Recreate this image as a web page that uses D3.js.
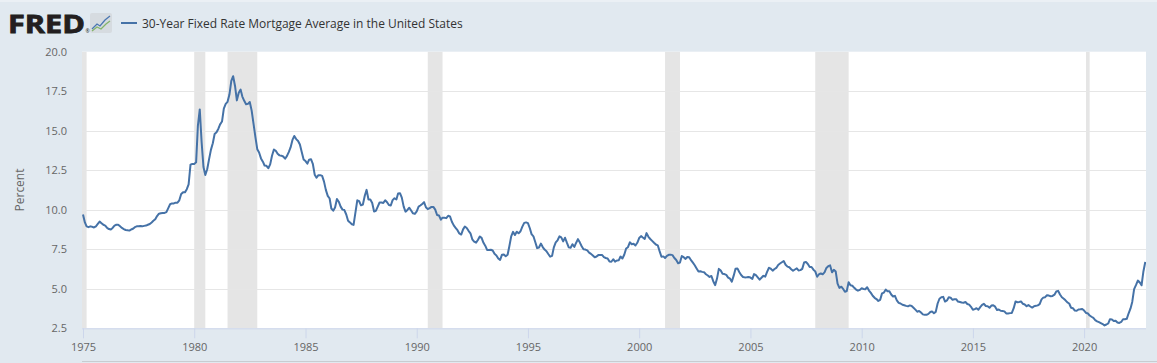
<!DOCTYPE html>
<html>
<head>
<meta charset="utf-8">
<script src="https://cdn.jsdelivr.net/npm/d3@7"></script>
<style>
  html, body { margin: 0; padding: 0; background: #e1e9f0; }
  svg { display: block; }
  text { font-family: "Open Sans", "Noto Sans", sans-serif; }
</style>
</head>
<body>
<svg id="chart" width="1157" height="363"></svg>
<script>
// ---------------- DATA ----------------
const seriesTitle = "30-Year Fixed Rate Mortgage Average in the United States";
const yAxisTitle = "Percent";
const startMonth = "1975-01";
const endDate = "2022-10-13";
// monthly 30-year fixed mortgage rate, percent (Jan 1975 .. Oct 2022)
const rates = [
  9.70, 9.20, 8.95, 8.90, 8.95, 8.92, 8.88, 8.95, 9.10, 9.25, 9.15, 9.05, // 1975
  9.00, 8.85, 8.78, 8.75, 8.85, 9.00, 9.05, 9.05, 8.95, 8.85, 8.78, 8.72, // 1976
  8.70, 8.68, 8.75, 8.80, 8.90, 8.95, 8.95, 8.97, 8.95, 8.98, 9.00, 9.05, // 1977
  9.10, 9.20, 9.30, 9.40, 9.60, 9.75, 9.78, 9.80, 9.80, 9.85, 10.10, 10.35, // 1978
  10.40, 10.40, 10.45, 10.45, 10.60, 11.00, 11.10, 11.10, 11.30, 11.60, 12.85, 12.90, // 1979
  12.90, 13.00, 15.30, 16.35, 14.30, 12.70, 12.20, 12.56, 13.20, 13.79, 14.21, 14.79, // 1980
  14.90, 15.13, 15.40, 15.58, 16.40, 16.70, 16.83, 17.29, 18.16, 18.45, 17.83, 16.92, // 1981
  17.40, 17.60, 17.16, 16.89, 16.68, 16.70, 16.82, 16.27, 15.43, 14.61, 13.83, 13.62, // 1982
  13.25, 13.04, 12.80, 12.78, 12.63, 12.87, 13.42, 13.81, 13.73, 13.54, 13.44, 13.42, // 1983
  13.37, 13.23, 13.39, 13.65, 13.94, 14.42, 14.67, 14.47, 14.35, 14.13, 13.64, 13.18, // 1984
  13.08, 12.92, 13.17, 13.20, 12.91, 12.22, 12.03, 12.19, 12.19, 12.14, 11.78, 11.26, // 1985
  10.88, 10.71, 10.08, 9.94, 10.14, 10.68, 10.51, 10.20, 10.01, 9.98, 9.70, 9.31, // 1986
  9.20, 9.08, 9.04, 9.83, 10.60, 10.54, 10.28, 10.33, 10.89, 11.26, 10.65, 10.65, // 1987
  10.43, 9.89, 9.93, 10.20, 10.46, 10.46, 10.43, 10.60, 10.48, 10.30, 10.27, 10.61, // 1988
  10.73, 10.65, 11.03, 11.05, 10.77, 10.20, 9.88, 9.99, 10.13, 9.95, 9.77, 9.74, // 1989
  9.90, 10.20, 10.27, 10.37, 10.48, 10.16, 10.04, 10.10, 10.18, 10.18, 10.01, 9.67, // 1990
  9.64, 9.37, 9.50, 9.49, 9.47, 9.62, 9.58, 9.24, 9.01, 8.86, 8.71, 8.50, // 1991
  8.43, 8.76, 8.94, 8.85, 8.67, 8.51, 8.13, 7.98, 7.92, 8.09, 8.31, 8.22, // 1992
  7.91, 7.71, 7.46, 7.46, 7.47, 7.42, 7.21, 7.11, 6.92, 6.83, 7.16, 7.17, // 1993
  7.06, 7.15, 7.68, 8.32, 8.60, 8.40, 8.61, 8.51, 8.64, 8.93, 9.17, 9.20, // 1994
  9.15, 8.83, 8.46, 8.32, 7.96, 7.57, 7.61, 7.86, 7.64, 7.48, 7.38, 7.20, // 1995
  7.03, 7.08, 7.62, 7.93, 8.07, 8.32, 8.25, 8.00, 8.23, 7.92, 7.62, 7.60, // 1996
  7.82, 7.65, 7.90, 8.14, 7.94, 7.69, 7.50, 7.48, 7.43, 7.29, 7.21, 7.10, // 1997
  6.99, 7.04, 7.13, 7.14, 7.14, 7.00, 6.95, 6.92, 6.72, 6.71, 6.87, 6.72, // 1998
  6.79, 6.81, 7.04, 6.92, 7.15, 7.55, 7.63, 7.94, 7.82, 7.85, 7.74, 7.91, // 1999
  8.21, 8.33, 8.24, 8.15, 8.52, 8.29, 8.15, 8.03, 7.91, 7.80, 7.75, 7.38, // 2000
  7.03, 7.05, 6.95, 7.08, 7.15, 7.16, 7.13, 6.95, 6.82, 6.62, 6.66, 7.07, // 2001
  7.00, 6.89, 7.01, 6.99, 6.81, 6.65, 6.49, 6.29, 6.09, 6.11, 6.07, 6.05, // 2002
  5.92, 5.84, 5.75, 5.81, 5.48, 5.23, 5.63, 6.26, 6.15, 5.95, 5.93, 5.88, // 2003
  5.71, 5.64, 5.45, 5.83, 6.27, 6.29, 6.06, 5.87, 5.75, 5.72, 5.73, 5.75, // 2004
  5.71, 5.63, 5.93, 5.86, 5.72, 5.58, 5.70, 5.82, 5.77, 6.07, 6.33, 6.27, // 2005
  6.15, 6.25, 6.32, 6.51, 6.60, 6.68, 6.76, 6.52, 6.40, 6.36, 6.24, 6.14, // 2006
  6.22, 6.29, 6.16, 6.18, 6.26, 6.66, 6.70, 6.57, 6.38, 6.38, 6.21, 6.10, // 2007
  5.76, 5.92, 5.97, 5.92, 6.04, 6.32, 6.43, 6.48, 6.04, 6.20, 6.09, 5.33, // 2008
  5.06, 5.13, 5.00, 4.81, 4.86, 5.42, 5.22, 5.19, 5.06, 4.95, 4.88, 4.93, // 2009
  5.03, 4.99, 4.97, 5.10, 4.89, 4.74, 4.56, 4.43, 4.35, 4.23, 4.30, 4.71, // 2010
  4.76, 4.95, 4.84, 4.84, 4.64, 4.51, 4.55, 4.27, 4.11, 4.07, 3.99, 3.96, // 2011
  3.92, 3.89, 3.95, 3.91, 3.80, 3.68, 3.55, 3.60, 3.50, 3.38, 3.35, 3.35, // 2012
  3.41, 3.53, 3.57, 3.45, 3.54, 4.07, 4.37, 4.46, 4.49, 4.19, 4.26, 4.46, // 2013
  4.43, 4.30, 4.34, 4.34, 4.19, 4.16, 4.13, 4.12, 4.16, 4.04, 4.00, 3.86, // 2014
  3.67, 3.71, 3.77, 3.67, 3.84, 3.98, 4.05, 3.91, 3.89, 3.80, 3.94, 3.96, // 2015
  3.87, 3.66, 3.69, 3.61, 3.60, 3.57, 3.44, 3.44, 3.46, 3.47, 3.77, 4.20, // 2016
  4.15, 4.17, 4.20, 4.05, 4.01, 3.90, 3.97, 3.88, 3.81, 3.90, 3.92, 3.95, // 2017
  4.03, 4.33, 4.44, 4.47, 4.59, 4.57, 4.53, 4.55, 4.63, 4.83, 4.87, 4.64, // 2018
  4.46, 4.37, 4.27, 4.14, 4.07, 3.80, 3.77, 3.62, 3.61, 3.69, 3.70, 3.72, // 2019
  3.62, 3.47, 3.45, 3.31, 3.23, 3.16, 3.02, 2.94, 2.89, 2.83, 2.77, 2.68, // 2020
  2.74, 2.81, 3.08, 3.06, 2.96, 2.98, 2.87, 2.84, 2.90, 3.07, 3.07, 3.10, // 2021
  3.45, 3.76, 4.17, 4.98, 5.23, 5.52, 5.41, 5.22, 6.11, 6.70              // 2022
];
// NBER recessions (shaded)
const recessionStarts = ["1973-11-01", "1980-01-01", "1981-07-01", "1990-07-01", "2001-03-01", "2007-12-01", "2020-02-01"];
const recessionEnds   = ["1975-03-01", "1980-07-01", "1982-11-01", "1991-03-01", "2001-11-01", "2009-06-01", "2020-04-01"];
const yTicks = [2.5, 5.0, 7.5, 10.0, 12.5, 15.0, 17.5, 20.0];
const xTickYears = [1975, 1980, 1985, 1990, 1995, 2000, 2005, 2010, 2015, 2020];

// ---------------- CHART ----------------
const svg = d3.select("#chart");
const W = 1157, H = 363;
const plot = { left: 82, right: 1146, top: 51.7, bottom: 328.3 };

const parseMonth = d3.timeParse("%Y-%m");
const parseDay = d3.timeParse("%Y-%m-%d");
const t0 = parseMonth(startMonth);
const data = rates.map((v, i) => ({ date: d3.timeMonth.offset(t0, i), value: v }));

const x = d3.scaleTime()
  .domain([parseDay("1975-01-01"), parseDay(endDate)])
  .range([83, plot.right]);
const y = d3.scaleLinear().domain([2.5, 20]).range([plot.bottom, plot.top]);

// background
svg.append("rect").attr("width", W).attr("height", H).attr("fill", "#e1e9f0");
svg.append("rect").attr("width", W).attr("height", 2).attr("fill", "#ebf0f5");
svg.append("line").attr("x1", plot.left).attr("x2", W).attr("y1", 361.5).attr("y2", 361.5)
  .attr("stroke", "#c8ccd0").attr("stroke-width", 1);

// plot background
svg.append("rect")
  .attr("x", plot.left).attr("y", plot.top)
  .attr("width", plot.right - plot.left).attr("height", plot.bottom - plot.top)
  .attr("fill", "#ffffff");

svg.append("defs").append("clipPath").attr("id", "clip")
  .append("rect")
  .attr("x", plot.left).attr("y", plot.top)
  .attr("width", plot.right - plot.left).attr("height", plot.bottom - plot.top);

// recession bands
const rec = recessionStarts.map((s, i) => ({ s: parseDay(s), e: parseDay(recessionEnds[i]) }));
svg.append("g").attr("clip-path", "url(#clip)")
  .selectAll("rect").data(rec).join("rect")
  .attr("x", d => x(d.s))
  .attr("width", d => Math.max(1, x(d.e) - x(d.s)))
  .attr("y", plot.top).attr("height", plot.bottom - plot.top)
  .attr("fill", "#e5e5e5");

// gridlines
svg.append("g")
  .selectAll("line").data(yTicks.filter(v => v > 2.5 && v < 20)).join("line")
  .attr("x1", plot.left).attr("x2", plot.right)
  .attr("y1", d => Math.round(y(d)) + 0.5).attr("y2", d => Math.round(y(d)) + 0.5)
  .attr("stroke", "#e6e6e6").attr("stroke-width", 1);

// y axis labels
const yAxis = d3.axisLeft(y).tickValues(yTicks).tickFormat(d3.format(".1f")).tickSize(0).tickPadding(0);
const gy = svg.append("g").attr("transform", `translate(67,0)`).call(yAxis);
gy.select(".domain").remove();
gy.selectAll("text").attr("fill", "#666666").attr("font-size", 11)
  .attr("font-family", '"Open Sans", sans-serif');

// x axis
const xAxis = d3.axisBottom(x)
  .tickValues(xTickYears.map(yy => new Date(yy, 0, 1)))
  .tickFormat(d3.timeFormat("%Y"))
  .tickSize(10).tickPadding(5);
const gx = svg.append("g").attr("transform", `translate(0,${plot.bottom})`).call(xAxis);
gx.select(".domain").attr("stroke", "#ccd6eb").attr("d", `M${plot.left},0.5H${plot.right}`);
gx.selectAll(".tick line").attr("stroke", "#ccd6eb");
gx.selectAll("text").attr("fill", "#666666").attr("font-size", 11)
  .attr("font-family", '"Open Sans", sans-serif');

// y title
svg.append("text")
  .attr("transform", `translate(24,190) rotate(-90)`)
  .attr("text-anchor", "middle")
  .attr("fill", "#666666").attr("font-size", 12)
  .text(yAxisTitle);

// line
const line = d3.line().x(d => x(d.date)).y(d => y(d.value));
svg.append("path")
  .datum(data)
  .attr("clip-path", "url(#clip)")
  .attr("fill", "none")
  .attr("stroke", "#4572a7")
  .attr("stroke-width", 2)
  .attr("stroke-linejoin", "round")
  .attr("d", line);

// header: FRED logo
svg.append("text")
  .attr("x", 8).attr("y", 32.5)
  .attr("font-family", '"DejaVu Sans", sans-serif')
  .attr("font-weight", "bold")
  .attr("font-size", 25)
  .attr("textLength", 77)
  .attr("lengthAdjust", "spacingAndGlyphs")
  .attr("fill", "#231f20")
  .attr("stroke", "#231f20").attr("stroke-width", 0.8)
  .text("FRED");
svg.append("text")
  .attr("x", 85.5).attr("y", 33)
  .attr("font-size", 5).attr("fill", "#231f20")
  .text("®");
// small logo icon
const icon = svg.append("g").attr("transform", "translate(90,13)");
icon.append("rect").attr("width", 22).attr("height", 20).attr("rx", 2)
  .attr("fill", "#d6dbe0");
icon.append("path").attr("d", "M2,16 L7,11 L10,13 L15,7 L20,3")
  .attr("fill", "none").attr("stroke", "#4b77b1").attr("stroke-width", 1.3);
icon.append("path").attr("d", "M2,18 L7,14 L11,16 L16,11 L20,8")
  .attr("fill", "none").attr("stroke", "#84b46a").attr("stroke-width", 1.3);

// legend
svg.append("line").attr("x1", 121).attr("x2", 137).attr("y1", 23).attr("y2", 23)
  .attr("stroke", "#4572a7").attr("stroke-width", 2);
const legendText = svg.append("text")
  .attr("x", 142).attr("y", 27.5)
  .attr("fill", "#333333").attr("font-size", 13)
  .text(seriesTitle);
// fit legend text to reference width
const targetW = 321;
const w = legendText.node().getComputedTextLength();
legendText.attr("font-size", 13 * targetW / w);
</script>
</body>
</html>
